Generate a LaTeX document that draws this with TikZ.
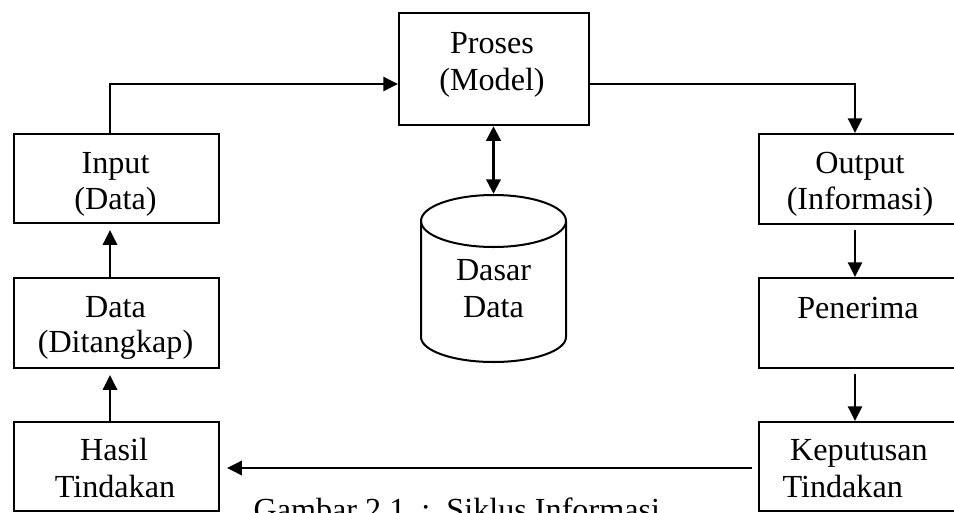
\documentclass[tikz,border=0pt]{standalone}
\usepackage{fontspec}
\setmainfont{Liberation Serif}
\usetikzlibrary{arrows.meta}
% one drawing unit = one pixel of a 954 x 512 sheet
\newcommand\pxu{0.3731pt}
\begin{document}
\begin{tikzpicture}[x=0.3731pt, y=-0.3731pt,
  >={Triangle[length=5.5pt, width=5.2pt]},
  box/.style={draw, line width=0.75pt, inner sep=0pt, anchor=north west},
  sz/.style 2 args={minimum width=#1*0.3731pt, minimum height=#2*0.3731pt},
  ln/.style={anchor=base, inner sep=0pt, font=\fontsize{12}{14}\selectfont},
  conn/.style={line width=1.1pt, ->},
]
\useasboundingbox (0,0) rectangle (954,512);
\clip (0,0) rectangle (954,512);

% boxes
\node[box, sz={205}{89}] (inp) at (13,133) {};
\node[box, sz={205}{90}] (cap) at (13,277) {};
\node[box, sz={205}{89}] (res) at (13,421) {};
\node[box, sz={190}{112}] (proc) at (398,12) {};
\node[box, sz={206}{90}] (out) at (758,133) {};
\node[box, sz={206}{90}] (rcv) at (758,277) {};
\node[box, sz={206}{89}] (dec) at (758,421) {};

% box texts
\node[ln] (procA) at (492,53) {Proses};
\node[ln] (procB) at (492,90) {(Model)};
\node[ln] (inpA) at (115.5,173) {Input};
\node[ln] (inpB) at (115.5,209) {(Data)};
\node[ln] (capA) at (115.5,317) {Data};
\node[ln] (capB) at (115.5,352) {(Ditangkap)};
\node[ln] (resA) at (114,460) {Hasil};
\node[ln] (resB) at (115,497) {Tindakan};
\node[ln] (outA) at (860,173) {Output};
\node[ln] (outB) at (860,209) {(Informasi)};
\node[ln] (rcvA) at (858,318) {Penerima};
\node[ln] (decA) at (859,460) {Keputusan};
\node[ln, anchor=base west] (decB) at (782,497) {Tindakan};

% database cylinder
\draw[line width=0.75pt] (493.5,221) ellipse [x radius=72.5, y radius=26];
\draw[line width=0.75pt] (421,221) -- (421,337)
  arc[start angle=180, end angle=0, x radius=72.5, y radius=25] -- (566,221);
\coordinate (dbtop) at (493.5,194);
\node[ln] (dbA) at (493.5,280) {Dasar};
\node[ln] (dbB) at (493.5,317) {Data};

% connectors
\draw[conn] ([xshift=-6.5*\pxu]inp.north) |- (proc.west |- 0,84);
\draw[conn] (proc.east |- 0,84) -| ([xshift=-7*\pxu]out.north);
\draw[conn] ([xshift=-7*\pxu, yshift=-5*\pxu]out.south) -- ([xshift=-7*\pxu]rcv.north);
\draw[conn] ([xshift=-7*\pxu, yshift=-5*\pxu]rcv.south) -- ([xshift=-7*\pxu]dec.north);
\draw[conn, shorten >=7*\pxu] ([xshift=-6*\pxu]dec.west |- 0,468) -- (res.east |- 0,468);
\draw[conn, shorten >=6*\pxu] ([xshift=-6.5*\pxu]res.north) -- ([xshift=-6.5*\pxu]cap.south);
\draw[conn, shorten >=6*\pxu] ([xshift=-6.5*\pxu]cap.north) -- ([xshift=-6.5*\pxu]inp.south);
\draw[line width=1.4pt, <->] (proc.south -| dbtop) -- (dbtop);

% caption
\node[ln, anchor=base west] (caption) at (253,520) {Gambar 2.1\ \ :\ \ Siklus Informasi};
\end{tikzpicture}
\end{document}
